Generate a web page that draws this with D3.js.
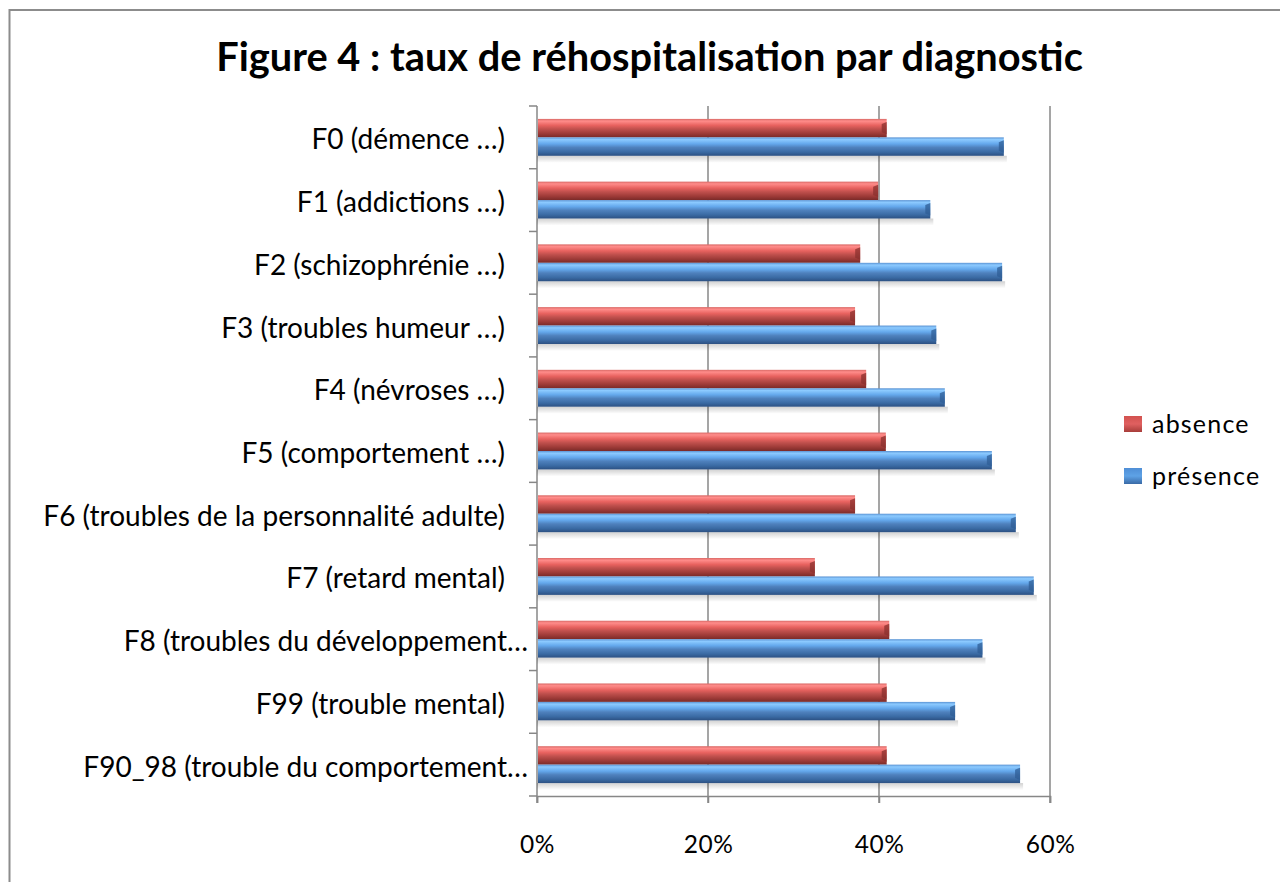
<!DOCTYPE html>
<html><head><meta charset="utf-8">
<script src="https://cdn.jsdelivr.net/npm/d3@7"></script>
<style>body{margin:0;background:#fff}svg{display:block}</style>
</head><body>
<script>
const categories = ["F0 (démence …)","F1 (addictions  …)","F2 (schizophrénie …)","F3 (troubles humeur …)","F4 (névroses …)","F5 (comportement  …)","F6 (troubles de la personnalité adulte)","F7 (retard mental)","F8 (troubles du développement…","F99 (trouble mental)","F90_98 (trouble du comportement…"];
const absence  = [0.409,0.399,0.378,0.372,0.385,0.408,0.372,0.325,0.412,0.409,0.409];
const presence = [0.546,0.460,0.544,0.467,0.477,0.532,0.560,0.581,0.521,0.489,0.565];
const seriesNames = ["absence","présence"];
const xTicks = [0,0.2,0.4,0.6];
const titleText = "Figure 4 : taux de réhospitalisation par diagnostic";

const W=1280,H=882;
const font = "Lato, 'Open Sans', sans-serif";
const svg = d3.select("body").append("svg").attr("width",W).attr("height",H);
const defs = svg.append("defs");
function grad(id, stops){
  const g = defs.append("linearGradient").attr("id",id).attr("x1",0).attr("y1",0).attr("x2",0).attr("y2",1);
  stops.forEach(s=>g.append("stop").attr("offset",s[0]).attr("stop-color",s[1]));
}
grad("gRed",[[0,"#d96a67"],[0.12,"#ff8c8a"],[0.35,"#e8625f"],[0.55,"#c0504d"],[0.8,"#9c3a37"],[1,"#7a2a28"]]);
grad("gBlue",[[0,"#5b93d3"],[0.12,"#8ccaff"],[0.35,"#64a8ec"],[0.55,"#4f81bd"],[0.8,"#3a6aa3"],[1,"#2c5082"]]);
grad("gShadow",[[0,"rgba(0,0,0,0.18)"],[1,"rgba(0,0,0,0)"]]);
grad("gRedL",[[0,"#d2524f"],[0.5,"#e06060"],[1,"#a73d3a"]]);
grad("gBlueL",[[0,"#4f8ed6"],[0.5,"#5ea2e6"],[1,"#3a6aa6"]]);

// frame
svg.append("rect").attr("x",9.5).attr("y",10).attr("width",W+20).attr("height",H+20)
  .attr("fill","#fff").attr("stroke","#8c8c8c").attr("stroke-width",2);

const x0=537, x1=1050, yTop=106, yBot=796;
const x = d3.scaleLinear().domain([0,0.6]).range([x0,x1]);
const y = d3.scaleBand().domain(categories).range([yTop,yBot]).paddingInner(0).paddingOuter(0);

// title
const t = svg.append("text").attr("x",649.5).attr("y",71).attr("text-anchor","middle")
  .attr("font-family",font).attr("font-weight","bold").attr("font-size",32).attr("fill","#000").text(titleText);
{const w=t.node().getComputedTextLength(); t.attr("font-size",32*867/w);}

// gridlines
svg.append("g").selectAll("line").data(xTicks.slice(1)).join("line")
  .attr("x1",d=>x(d)).attr("x2",d=>x(d)).attr("y1",yTop).attr("y2",yBot+7)
  .attr("stroke","#878787").attr("stroke-width",1.5);

// x axis
const xa = svg.append("g").attr("transform",`translate(0,${yBot})`)
  .call(d3.axisBottom(x).tickValues(xTicks).tickFormat(d3.format(".0%")).tickSize(7).tickPadding(33));
xa.select(".domain").attr("stroke","#878787").attr("stroke-width",1.5);
xa.selectAll(".tick line").attr("stroke","#878787").attr("stroke-width",1.5);
xa.selectAll("text").attr("font-family",font).attr("font-size",24.5).attr("letter-spacing",0.5).attr("fill","#000");

// y axis line and ticks
const bounds = categories.map(c=>y(c)).concat([yBot]);
svg.append("line").attr("x1",x0).attr("x2",x0).attr("y1",yTop).attr("y2",yBot+7).attr("stroke","#878787").attr("stroke-width",1.5);
svg.append("g").selectAll("line").data(bounds).join("line")
  .attr("x1",x0-8).attr("x2",x0).attr("y1",d=>d).attr("y2",d=>d).attr("stroke","#878787").attr("stroke-width",1.5);

// bars
const bh = y.bandwidth()/3.4;
const off = y.bandwidth()*0.7/3.4;
const data = [];
categories.forEach((c,i)=>{
  data.push({c, s:0, v:absence[i]});
  data.push({c, s:1, v:presence[i]});
});
const bars = svg.append("g");
bars.selectAll("rect.sh").data(data.filter(d=>d.s===1)).join("rect").attr("class","sh")
  .attr("x",x0).attr("y",d=>y(d.c)+off+2*bh).attr("width",d=>x(d.v)-x0+3).attr("height",7)
  .attr("fill","url(#gShadow)");
bars.selectAll("rect.b").data(data).join("rect").attr("class","b")
  .attr("x",x0+1).attr("y",d=>y(d.c)+off+d.s*bh).attr("width",d=>x(d.v)-x0-1).attr("height",bh)
  .attr("fill",d=>d.s? "url(#gBlue)":"url(#gRed)");
bars.selectAll("path.e").data(data).join("path").attr("class","e")
  .attr("d",d=>{const xe=x(d.v), yy=y(d.c)+off+d.s*bh; const b=5;
    return `M${xe-b},${yy+b}L${xe},${yy+b*0.6}L${xe},${yy+bh-b*0.6}L${xe-b},${yy+bh-b}Z`;})
  .attr("fill",d=>d.s? "#2f5d96":"#8a302d").attr("opacity",0.75);

// category labels
const lab = svg.append("g").selectAll("text").data(categories).join("text")
  .attr("x",d=> (d.endsWith("…")&&d.indexOf(")")<0) ? 528 : 505)
  .attr("y",d=>y(d)+y.bandwidth()/2+12).attr("text-anchor","end")
  .attr("font-family",font).attr("font-size",21).attr("fill","#000").text(d=>d);
{ const n = lab.filter(d=>d.startsWith("F6")).node(); const w=n.getComputedTextLength();
  lab.attr("font-size",21*462/w); }

// legend
const lg = svg.append("g");
seriesNames.forEach((s,i)=>{
  const yy = 424 + i*52;
  lg.append("rect").attr("x",1124).attr("y",yy-8).attr("width",18).attr("height",16)
    .attr("fill",i? "url(#gBlueL)":"url(#gRedL)");
  lg.append("text").attr("x",1152).attr("y",yy+9).attr("font-family",font).attr("font-size",25)
    .attr("letter-spacing",1.2).attr("fill","#000").text(s);
});
</script>
</body></html>
